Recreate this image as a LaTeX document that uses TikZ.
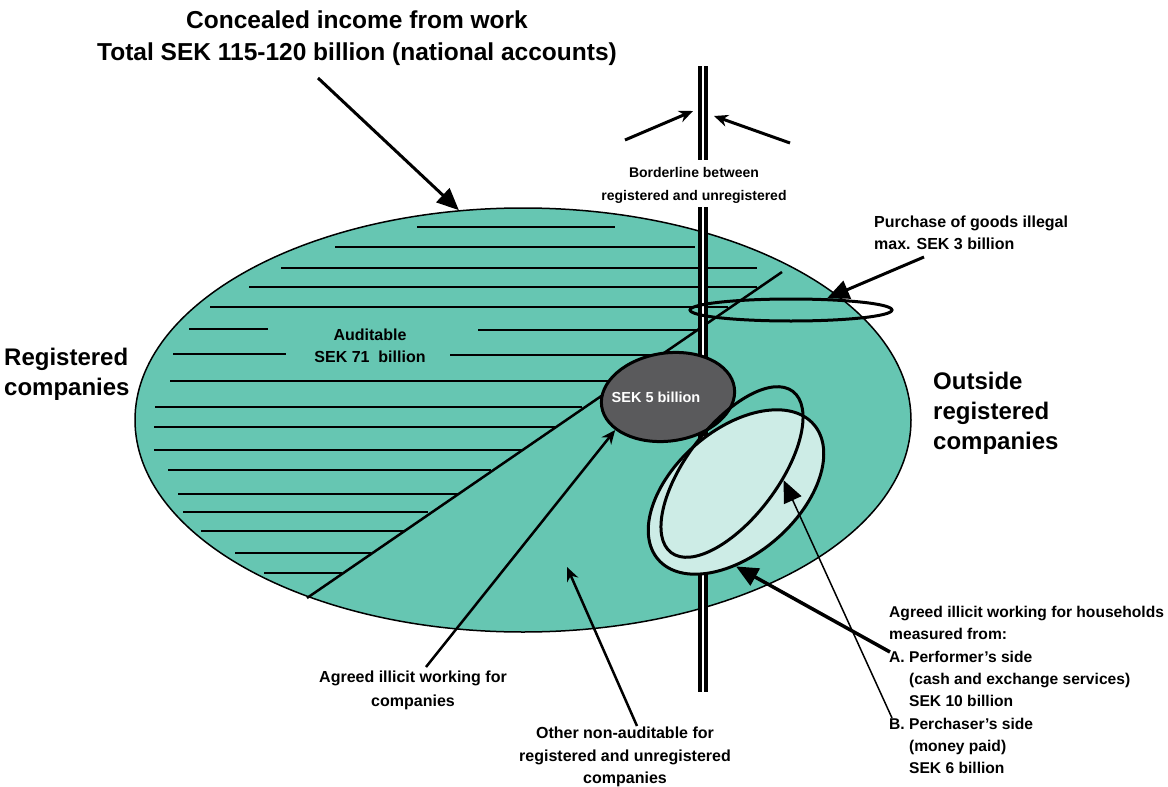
\documentclass[tikz,border=0pt]{standalone}
\usepackage{fontspec}
\setmainfont{Liberation Sans}
\usetikzlibrary{arrows.meta,shapes.geometric}

\definecolor{regGreen}{RGB}{102,198,178}
\definecolor{hhLight}{RGB}{205,236,230}
\definecolor{darkGrey}{RGB}{90,90,92}

\tikzset{
  lbl/.style={align=center, inner sep=0pt, font=\fontsize{16}{22.5}\selectfont\bfseries},
  biglbl/.style={align=left, inner sep=0pt, font=\fontsize{24}{30}\selectfont\bfseries},
  bigarrow/.style={-{Triangle[length=22pt,width=19pt]}, line width=3pt},
  thinarrow/.style={-{Stealth[length=14pt,width=12pt]}, line width=2.5pt},
  borderline/.style={double=white, double distance=1.2pt, line width=4pt},
  ring/.style={ellipse, draw, line width=3pt, inner sep=0pt}
}

\begin{document}
\begin{tikzpicture}[x=1pt, y=-1pt]
  \useasboundingbox (0,0) rectangle (1168,787);

  % the whole of concealed income
  \node[ellipse, draw, line width=1.5pt, fill=regGreen,
    minimum width=776pt, minimum height=424pt] (total) at (523,420) {};

  % auditable part, hatched
  \foreach \xa/\xb/\yy in {417/615/227, 335/695/247, 281/757/268,
      249/757/287, 210/728/307, 189/268/329, 478/697/330, 173/286/354,
      450/697/355, 170/613/381, 155/582/407, 154/555/427, 154/524/450,
      168/491/470, 178/458/494, 183/428/512, 201/404/531, 235/371/553,
      264/342/573}
    \draw[line width=2pt] (\xa,\yy) -- (\xb,\yy);
  \draw[line width=2.5pt] (307,598) -- (782,272);

  % borderline
  \draw[borderline] (703,66) -- (703,160);
  \draw[borderline] (703,207) -- (703,692);

  \node[ring, minimum width=202pt, minimum height=22pt] (goods) at (791,310) {};
  \node[ring, fill=darkGrey, minimum width=134pt, minimum height=88pt,
    rotate=8] (fiveb) at (668,397) {};
  \node[text=white, font=\fontsize{14.5}{16}\selectfont\bfseries] (fivetxt) at (656,397) {SEK 5 billion};
  \node[ring, fill=hhLight, minimum width=206pt, minimum height=124pt,
    rotate=41] (perf) at (736,492) {};
  \node[ring, minimum width=202pt, minimum height=92pt,
    rotate=53] (purch) at (732,472) {};

  % texts
  \node[align=center, inner sep=0pt, font=\fontsize{24.5}{32}\selectfont\bfseries]
    (title) at (357,38) {Concealed income from work\\Total SEK 115-120 billion (national accounts)};
  \node[lbl, font=\fontsize{14}{23}\selectfont\bfseries] (border) at (694,185)
    {Borderline between\\registered and unregistered};
  \node[lbl, align=left, anchor=west] (goodslbl) at (874,233)
    {Purchase of goods illegal\\max. SEK 3 billion};
  \node[lbl] (audit) at (370,346) {Auditable\\SEK 71\ \ billion};
  \node[biglbl, anchor=west] (reg) at (4,374) {Registered\\companies};
  \node[biglbl, anchor=west] (outside) at (933,413) {Outside\\registered\\companies};
  \node[lbl, font=\fontsize{16}{24}\selectfont\bfseries] (comp) at (413,690) {Agreed illicit working for\\companies};
  \node[lbl] (other) at (625,757)
    {Other non-auditable for\\registered and unregistered\\companies};
  \node[lbl, align=left, anchor=north west, font=\fontsize{15.6}{22.3}\selectfont\bfseries] (hh) at (889,606)
    {Agreed illicit working for households\\
     measured from:\\
     A.\ Performer’s side\\
     \hphantom{A.\ }(cash and exchange services)\\
     \hphantom{A.\ }SEK 10 billion\\
     B.\ Perchaser’s side\\
     \hphantom{B.\ }(money paid)\\
     \hphantom{B.\ }SEK 6 billion};

  % arrows
  \coordinate (titletail) at (318,78);
  \coordinate (bleft) at (625,140);
  \coordinate (bleftend) at (693,111);
  \coordinate (bright) at (790,143);
  \coordinate (brightend) at (714,116);
  \coordinate (goodstail) at (924,257);
  \coordinate (comptail) at (426,667);
  \coordinate (othertail) at (637,726);
  \coordinate (otherend) at (567,567);
  \coordinate (perftail) at (890,652);
  \coordinate (purchtail) at (892,718);

  \draw[bigarrow] (titletail) -- (total.107);
  \draw[thinarrow, line width=3pt] (bleft) -- (bleftend);
  \draw[thinarrow, line width=3pt] (bright) -- (brightend);
  \draw[bigarrow] (goodstail) -- (goods.18);
  \draw[thinarrow] (comptail) -- (fiveb.204);
  \draw[thinarrow] (othertail) -- (otherend);
  \draw[bigarrow, line width=3.5pt] (perftail) -- (perf.229);
  \draw[bigarrow, line width=1.5pt] (purchtail) -- (purch.298);
\end{tikzpicture}
\end{document}
